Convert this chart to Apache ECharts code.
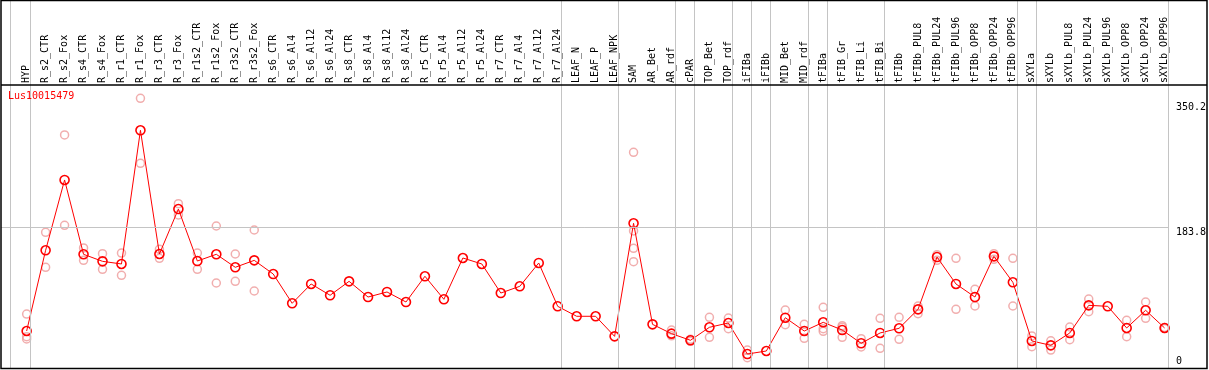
<!DOCTYPE html>
<html>
<head>
<meta charset="utf-8">
<script src="https://cdn.jsdelivr.net/npm/echarts@6/dist/echarts.min.js"></script>
<style>
html,body{margin:0;padding:0;background:#fff;}
#chart{width:1209px;height:370px;}
</style>
</head>
<body>
<div id="chart"></div>
<script>
const geneName = 'Lus10015479';
const categories = ['HYP','R_s2_CTR','R_s2_Fox','R_s4_CTR','R_s4_Fox','R_r1_CTR','R_r1_Fox','R_r3_CTR','R_r3_Fox',
  'R_r1s2_CTR','R_r1s2_Fox','R_r3s2_CTR','R_r3s2_Fox','R_s6_CTR','R_s6_Al4','R_s6_Al12','R_s6_Al24',
  'R_s8_CTR','R_s8_Al4','R_s8_Al12','R_s8_Al24','R_r5_CTR','R_r5_Al4','R_r5_Al12','R_r5_Al24',
  'R_r7_CTR','R_r7_Al4','R_r7_Al12','R_r7_Al24','LEAF_N','LEAF_P','LEAF_NPK','SAM','AR_Bet','AR_rdf',
  'cPAR','TOP_Bet','TOP_rdf','iFIBa','iFIBb','MID_Bet','MID_rdf','tFIBa','tFIB_Gr','tFIB_Li','tFIB_Bi',
  'tFIBb','tFIBb_PUL8','tFIBb_PUL24','tFIBb_PUL96','tFIBb_OPP8','tFIBb_OPP24','tFIBb_OPP96',
  'sXYLa','sXYLb','sXYLb_PUL8','sXYLb_PUL24','sXYLb_PUL96','sXYLb_OPP8','sXYLb_OPP24','sXYLb_OPP96'];
const meanValues = [46.9,153.8,247,148.5,139.2,135.7,312.8,148.9,208.5,139.6,
  148.5,131.3,140.5,122.4,83.6,109.2,94.2,112.7,91.9,98.6,
  85.3,119.4,88.9,143.6,135.7,97.2,106.1,137,79.6,66.4,
  66.4,39.8,189.6,55.7,43.4,34.6,51.8,57.5,16.4,20.4,
  64.5,46.9,58.4,48.2,30.6,44.3,50.5,75.6,144.9,109.2,
  91.9,145.8,111.4,33.7,27.9,44.3,80.9,79.6,50.9,74.3,50.9];
const replicateValues = [
  [69.4,39.4,36.3],[177.6,131.3],[306.6,186.9],[156.9,140.5],[149.3,128.6],[150.2,120.7],
  [355.2,269.1],[155.1,143.2],[215.6,200.6],[150.2,128.6],[186,110.5],[148.9,112.7],[180.7,99.9],
  [],[],[],[],[],[],[],[],[],[],[],[],[],[],[],[],[],[],[],
  [283.6,179.4,156.5,138.7],[],[48.2,40.5],[35.9,33.3],[65,38.5],[64.1,50],[21.7,11.5],[],
  [74.7,55.3],[55.7,37.2],[78.3,50,46.5],[54,52,38.5],[36.7,25.7],[63.7,24],[65,35.9],
  [80,69.8],[148,140.5],[143.2,75.6],[102.1,80],[149.3,141.9],[143.2,80],
  [40.3,26.1],[34,21.7],[52.2,35.4],[89.3,72.5],[],[61.1,39.4],[85.3,63.7],[51.5,50.3]
];
const yTickLabels = [183.8, 350.2];
const yZeroLabel = [0];
const groupBreaks = [-0.86,0.21,28.21,31.21,34.21,35.21,37.21,38.21,39.21,41.21,42.21,45.21,52.21,53.21,60.21];

const FONT = 'DejaVu Sans Mono';
const indices = categories.map((c,i)=>i);
const meanData = meanValues.map((v,i)=>[i,v]);
const repData = [];
replicateValues.forEach((arr,i)=>arr.forEach(v=>repData.push([i,v])));

const X_MIN = -1.3526, X_MAX = 60.2263, Y_MIN = -3.44, Y_MAX = 485.4;

const chart = echarts.init(document.getElementById('chart'), null, {renderer:'canvas'});
chart.setOption({
  animation:false,
  backgroundColor:'#fff',
  title:{text:geneName,left:8,top:91,padding:0,
    textStyle:{color:'#ff0000',fontSize:10,fontWeight:'normal',fontFamily:FONT}},
  grid:{left:1,right:38,top:0,bottom:1,containLabel:false},
  xAxis:{type:'value',min:X_MIN,max:X_MAX,position:'top',offset:-85,
    axisLine:{show:false},axisTick:{show:false},splitLine:{show:false},
    axisLabel:{customValues:indices,rotate:90,margin:2,color:'#000',fontSize:10,fontFamily:FONT,
      formatter:(v)=>categories[Math.round(v)]||''}},
  yAxis:[
    {type:'value',min:Y_MIN,max:Y_MAX,position:'right',
     axisLine:{show:false},axisTick:{show:false},splitLine:{show:false},
     axisLabel:{customValues:yTickLabels,margin:7,verticalAlign:'top',color:'#000',fontSize:10,fontFamily:FONT}},
    {type:'value',min:Y_MIN,max:Y_MAX,position:'right',
     axisLine:{show:false},axisTick:{show:false},splitLine:{show:false},
     axisLabel:{customValues:yZeroLabel,margin:7,verticalAlign:'bottom',color:'#000',fontSize:10,fontFamily:FONT}}
  ],
  series:[
    {type:'line',data:[],silent:true,
     markLine:{silent:true,symbol:'none',label:{show:false},animation:false,
       lineStyle:{color:'#c4c4c4',width:1,type:'solid'},
       data:[...groupBreaks.map(b=>({xAxis:b})),...yTickLabels.slice(0,1).map(v=>({yAxis:v}))]}},
    {type:'scatter',data:repData,symbol:'circle',symbolSize:8,silent:true,
     itemStyle:{color:'rgba(0,0,0,0)',borderColor:'#ee9a9a',borderWidth:1.5},z:3},
    {type:'line',data:meanData,symbol:'circle',symbolSize:9,showSymbol:true,silent:true,
     lineStyle:{color:'#ff0000',width:1},
     itemStyle:{color:'rgba(0,0,0,0)',borderColor:'#ff0000',borderWidth:1.6},z:4}
  ],
  graphic:[
    {type:'rect',shape:{x:1,y:0.5,width:1206,height:368},style:{fill:null,stroke:'#000',lineWidth:1.5},silent:true,z:100},
    {type:'line',shape:{x1:1,y1:85,x2:1207,y2:85},style:{stroke:'#000',lineWidth:1.5},silent:true,z:100}
  ]
});
</script>
</body>
</html>
